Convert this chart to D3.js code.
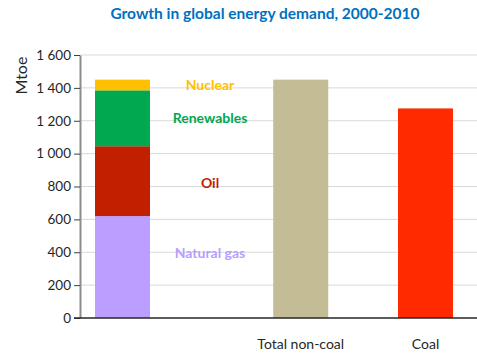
<!DOCTYPE html>
<html><head><meta charset="utf-8">
<script src="https://cdn.jsdelivr.net/npm/d3@7"></script>
<style>body{margin:0;background:#fff}svg{display:block}text{font-family:Lato,"Open Sans",sans-serif}</style>
</head><body>
<svg id="c" width="477" height="358"></svg>
<script>
(function(){
// Data
const title = "Growth in global energy demand, 2000-2010";
const yLabel = "Mtoe";
const stackKeys = ["Natural gas", "Oil", "Renewables", "Nuclear"];
const stackValues = [620, 425, 340, 65];
const stackColors = ["#BB9EFF", "#C21E00", "#00A84F", "#FFC000"];
const labelColors = ["#B99DFF", "#C01E00", "#00A84F", "#FFC000"];
const labelValues = [394, 820, 1215, 1415];
const categories = ["", "Total non-coal", "Coal"];
const catSlots = [0, 10, 17];
const catValues = [null, 1450, 1275];
const catColors = [null, "#C4BC94", "#FF2A00"];
const yTicks = [0, 200, 400, 600, 800, 1000, 1200, 1400, 1600];

const svg = d3.select("#c");
const mLeft = 80, mRight = 477, mTop = 55, mBottom = 318;
const y = d3.scaleLinear().domain([0, 1600]).range([mBottom, mTop]);
const x = d3.scaleLinear().domain([0, 17]).range([122.5, 425.5]);
const barW = 55;
const fmt = v => d3.format(",")(v).replace(/,/g, " ");

svg.append("g").selectAll("line").data(yTicks.filter(t => t > 0)).join("line")
  .attr("x1", mLeft).attr("x2", mRight).attr("y1", d => y(d)).attr("y2", d => y(d))
  .attr("stroke", "#D9D9D9").attr("stroke-width", 1);

let cum = 0;
const stackData = stackValues.map((v, i) => { const d = {key: stackKeys[i], y0: cum, y1: cum + v, i}; cum += v; return d; });
svg.append("g").selectAll("rect").data(stackData).join("rect")
  .attr("x", x(catSlots[0]) - barW / 2).attr("width", barW)
  .attr("y", d => y(d.y1)).attr("height", d => y(d.y0) - y(d.y1))
  .attr("fill", d => stackColors[d.i]);

const catData = categories.map((c, i) => ({c, v: catValues[i], col: catColors[i], s: catSlots[i]})).filter(d => d.v != null);
svg.append("g").selectAll("rect").data(catData).join("rect")
  .attr("x", d => x(d.s) - barW / 2).attr("width", barW)
  .attr("y", d => y(d.v)).attr("height", d => y(0) - y(d.v))
  .attr("fill", d => d.col);

svg.append("g").selectAll("text").data(stackKeys).join("text")
  .attr("x", 210).attr("y", (d, i) => y(labelValues[i]))
  .attr("text-anchor", "middle").attr("dy", "0.35em")
  .attr("font-size", 14).attr("font-weight", "bold")
  .attr("fill", (d, i) => labelColors[i]).text(d => d);

const yAxis = d3.axisLeft(y).tickValues(yTicks).tickFormat(fmt).tickSize(6).tickSizeOuter(0);
const ga = svg.append("g").attr("transform", `translate(${mLeft},0)`).call(yAxis);
ga.select(".domain").attr("stroke", "#8C8C8C").attr("stroke-width", 2);
ga.selectAll(".tick line").attr("stroke", "#404040");
ga.selectAll(".tick text").attr("font-size", 13.5).attr("fill", "#262626")
  .attr("font-family", "Lato, sans-serif").attr("x", -9);

svg.append("line").attr("x1", mLeft - 6).attr("x2", mRight).attr("y1", y(0)).attr("y2", y(0))
  .attr("stroke", "#262626").attr("stroke-width", 1.5);

svg.append("g").selectAll("text").data(catData).join("text")
  .attr("x", d => x(d.s)).attr("y", 349).attr("text-anchor", "middle")
  .attr("font-size", 14).attr("fill", "#262626").text(d => d.c);

svg.append("text").attr("transform", `translate(27,${y(1475)}) rotate(-90)`)
  .attr("text-anchor", "middle").attr("font-size", 16).attr("fill", "#262626").text(yLabel);

svg.append("text").attr("x", 265).attr("y", 19).attr("text-anchor", "middle")
  .attr("font-size", 15.5).attr("font-weight", "bold").attr("fill", "#0070C0").text(title);
})();
</script>
</body></html>
